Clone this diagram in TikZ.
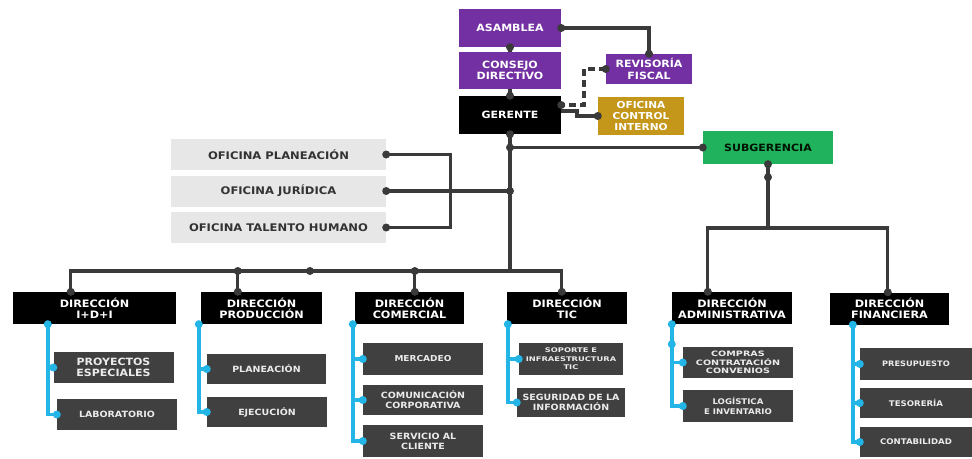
\documentclass[tikz,border=0pt]{standalone}
\usepackage{fontspec}
\setmainfont{DejaVu Sans}[FakeStretch=1.1]
\newfontfamily\widefont{DejaVu Sans}[FakeStretch=1.3]
\usetikzlibrary{calc}
\definecolor{purp}{HTML}{7330A2}
\definecolor{gold}{HTML}{C4961A}
\definecolor{grn}{HTML}{20B25C}
\definecolor{subbox}{HTML}{404040}
\definecolor{light}{HTML}{E7E7E7}
\definecolor{lnc}{HTML}{3A3A3A}
\definecolor{cyc}{HTML}{22B5E6}
\begin{document}
\begin{tikzpicture}[x=1pt,y=-1pt,
  sz/.style 2 args={minimum width=#1, minimum height=#2},
  bx/.style={inner sep=0pt, align=center, text=white, font=\bfseries\fontsize{10}{11.5}\selectfont},
  topbox/.style={bx, fill=purp},
  dirbox/.style={bx, fill=black, font=\bfseries\fontsize{10.2}{11.2}\selectfont},
  ofbox/.style={bx, fill=light, text=black!80, font=\bfseries\fontsize{10.5}{12}\selectfont, sz={215pt}{31pt}},
  sbox/.style={bx, fill=subbox, text=white!92!black, font=\bfseries\fontsize{8.6}{10}\selectfont},
  ln/.style={draw=lnc, line width=3.2pt},
  cl/.style={draw=cyc, line width=3.4pt},
  dk/.style={fill=lnc},
  cdot/.style={fill=cyc}]
\useasboundingbox[fill=white] (0,0) rectangle (972,458);

% top
\node[topbox, sz={102pt}{38pt}] (asam) at (510,28) {ASAMBLEA};
\node[topbox, sz={102pt}{37pt}] (cons) at (510,70.5) {CONSEJO\\DIRECTIVO};
\node[bx, fill=black, sz={102pt}{38pt}] (ger) at (510,115) {GERENTE};
\node[topbox, sz={86pt}{30pt}] (rev) at (649,69) {REVISORÍA\\FISCAL};
\node[bx, fill=gold, sz={86pt}{38pt}, font=\bfseries\fontsize{9.6}{10.6}\selectfont] (oci) at (641,116) {OFICINA\\CONTROL\\INTERNO};
\node[bx, fill=grn, sz={130pt}{33pt}, text=black!80!green!40!black, font=\bfseries\fontsize{10}{11}\selectfont] (subg) at (768,147.5) {SUBGERENCIA};

% oficinas
\node[ofbox] (ofp) at (278.5,154.5) {OFICINA PLANEACIÓN};
\node[ofbox] (ofj) at (278.5,191) {OFICINA JURÍDICA};
\node[ofbox] (oft) at (278.5,227.5) {OFICINA TALENTO HUMANO};

% direcciones
\node[dirbox, sz={163pt}{32pt}] (did) at (94.5,308) {DIRECCIÓN\\I+D+I};
\node[dirbox, sz={121pt}{32pt}] (dpr) at (261.5,308) {DIRECCIÓN\\PRODUCCIÓN};
\node[dirbox, sz={109pt}{32pt}] (dco) at (409.5,308) {DIRECCIÓN\\COMERCIAL};
\node[dirbox, sz={120pt}{32pt}] (dti) at (567,308) {DIRECCIÓN\\TIC};
\node[dirbox, sz={120pt}{32pt}] (dad) at (732,308) {DIRECCIÓN\\ADMINISTRATIVA};
\node[dirbox, sz={119pt}{32pt}] (dfi) at (889.5,308.5) {DIRECCIÓN\\FINANCIERA};

% sub-areas
\node[sbox, sz={120pt}{31pt}, font=\bfseries\fontsize{10}{11.5}\selectfont] (pe) at (113.5,367.5) {PROYECTOS\\ESPECIALES};
\node[sbox, sz={120pt}{31pt}] (lab) at (117,414.5) {LABORATORIO};
\node[sbox, sz={119pt}{30pt}] (pla) at (266.5,369) {PLANEACIÓN};
\node[sbox, sz={120pt}{30pt}] (eje) at (267,412) {EJECUCIÓN};
\node[sbox, sz={120pt}{32pt}, font=\bfseries\fontsize{8.2}{9.2}\selectfont] (mer) at (423,359) {MERCADEO};
\node[sbox, sz={120pt}{30pt}] (com) at (423,400) {COMUNICACIÓN\\CORPORATIVA};
\node[sbox, sz={120pt}{32pt}] (ser) at (423,441) {SERVICIO AL\\CLIENTE};
\node[sbox, sz={104pt}{32pt}, font=\widefont\bfseries\fontsize{6.4}{8.6}\selectfont] (sop) at (571,359) {SOPORTE E\\INFRAESTRUCTURA\\TIC};
\node[sbox, sz={108pt}{29pt}, font=\bfseries\fontsize{8.6}{9.6}\selectfont] (seg) at (571,402.5) {SEGURIDAD DE LA\\INFORMACIÓN};
\node[sbox, sz={110pt}{31pt}, font=\widefont\bfseries\fontsize{7.4}{8.8}\selectfont] (cpr) at (738,362.5) {COMPRAS\\CONTRATACIÓN\\CONVENIOS};
\node[sbox, sz={110pt}{32pt}, font=\bfseries\fontsize{7.8}{9.6}\selectfont] (log) at (738,406) {LOGÍSTICA\\E INVENTARIO};
\node[sbox, sz={112pt}{32pt}, font=\bfseries\fontsize{7.5}{9}\selectfont] (pre) at (916,364) {PRESUPUESTO};
\node[sbox, sz={112pt}{30pt}, font=\bfseries\fontsize{7.8}{9}\selectfont] (tes) at (916,403) {TESORERÍA};
\node[sbox, sz={112pt}{30pt}, font=\bfseries\fontsize{7.8}{9}\selectfont] (con) at (916,442) {CONTABILIDAD};

% ---- dark connectors ----
\draw[ln] (asam.south) -- (cons.north);
\draw[ln] (cons.south) -- (ger.north);
\draw[ln] (asam.east) -| (rev.north);
\coordinate (gd) at ($(ger.east)+(0,-10)$);
\draw[ln, dash pattern=on 7pt off 4pt] (rev.west) -- (584,69) |- (gd);
\coordinate (go) at ($(ger.east)+(0,-4)$);
\draw[ln] (go) -- (577,111) |- (oci.west);

\coordinate (bus) at (510,271);
\coordinate (j1) at (ger.south |- subg.west);
\coordinate (j2) at (ger.south |- ofj.east);
\draw[ln] (ger.south) -- (bus);
\draw[ln] (j1) -- (subg.west);
\draw[ln] (ofj.east) -- (j2);
\draw[ln] (ofp.east) -- ++(64,0) |- (oft.east);

\coordinate (tid) at ($(did.north west)+(58,0)$);
\coordinate (tpr) at ($(dpr.north west)+(37,0)$);
\coordinate (tco) at ($(dco.north west)+(60,0)$);
\coordinate (tti) at ($(dti.north west)+(55,0)$);
\draw[ln] (tid) |- (bus);
\draw[ln] (bus) -| (tti);
\draw[ln] (tpr) -- (tpr |- bus);
\draw[ln] (tco) -- (tco |- bus);
\coordinate (pd) at (310,271);

\coordinate (sb) at (768,228);
\coordinate (s1) at ($(subg.south)+(0,13)$);
\coordinate (ta) at ($(dad.north west)+(36,0)$);
\coordinate (tf) at ($(dfi.north west)+(58,0)$);
\draw[ln] (subg.south) -- (sb);
\draw[ln] (ta) |- (sb) -| (tf);

% ---- cyan connectors ----
\coordinate (cd) at ($(did.south west)+(35,0)$);
\coordinate (cp) at ($(dpr.south west)+(-2,0)$);
\coordinate (cc) at ($(dco.south west)+(-2,0)$);
\coordinate (ct) at ($(dti.south west)+(1,0)$);
\coordinate (ca) at ($(dad.south west)+(0,0)$);
\coordinate (cf) at ($(dfi.south west)+(23,0)$);
\draw[cl] (cd) |- (pe.west);  \draw[cl] (cd) |- (lab.west);
\draw[cl] (cp) |- (pla.west); \draw[cl] (cp) |- (eje.west);
\draw[cl] (cc) |- (mer.west); \draw[cl] (cc) |- (com.west); \draw[cl] (cc) |- (ser.west);
\draw[cl] (ct) |- (sop.west); \draw[cl] (ct) |- (seg.west);
\draw[cl] (ca) |- (cpr.west); \draw[cl] (ca) |- (log.west);
\draw[cl] (cf) |- (pre.west); \draw[cl] (cf) |- (tes.west); \draw[cl] (cf) |- (con.west);
\coordinate (cax) at ($(ca)+(0,20)$);

% ---- dots ----
\foreach \p in {asam.south, ger.north, asam.east, rev.north, rev.west, gd, oci.west,
  ger.south, j1, j2, subg.west, ofp.east, ofj.east, oft.east,
  tid, tpr, tpr |- bus, tco |- bus, tco, tti, pd,
  subg.south, s1, ta, tf}
  \fill[dk] (\p) circle (4pt);
\foreach \p in {cd, cp, cc, ct, ca, cf, cax, pe.west, lab.west, pla.west, eje.west,
  mer.west, com.west, ser.west, sop.west, seg.west, cpr.west, log.west,
  pre.west, tes.west, con.west}
  \fill[cdot] (\p) circle (4pt);
\end{tikzpicture}
\end{document}
